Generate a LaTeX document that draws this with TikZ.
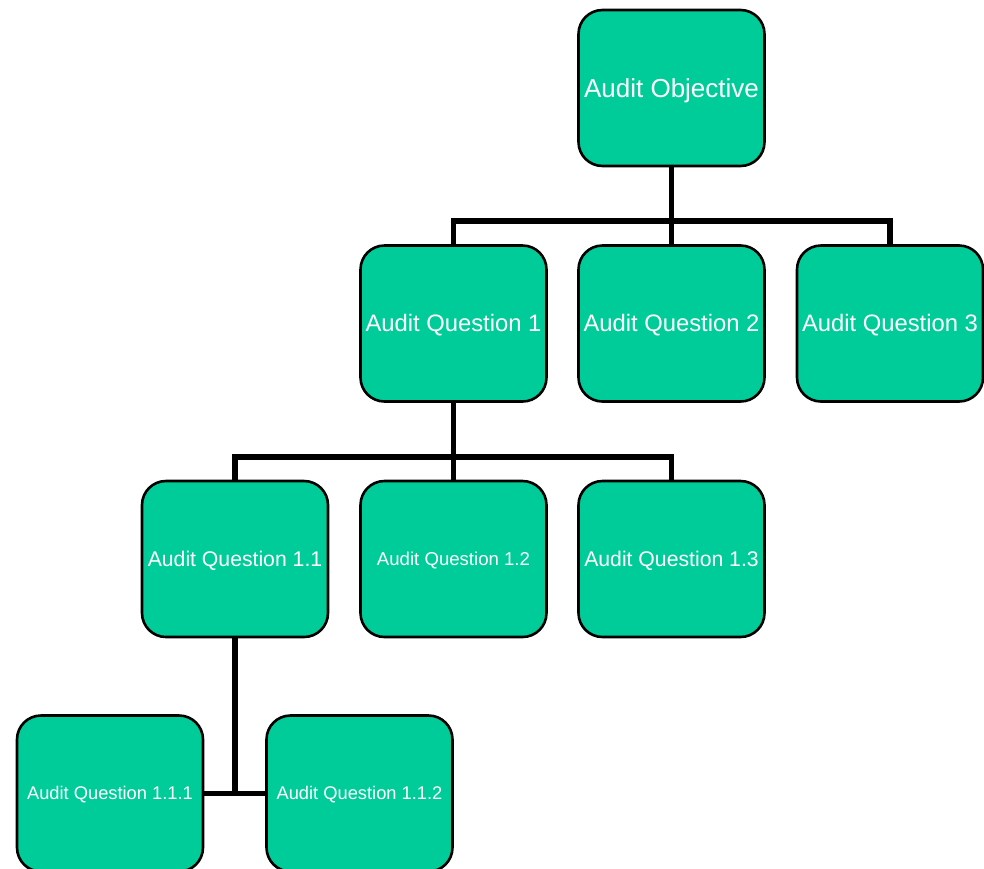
\documentclass[tikz,border=0pt]{standalone}
\usepackage{fontspec}
\setmainfont{Liberation Sans}
\usetikzlibrary{backgrounds}
\definecolor{boxgreen}{RGB}{0,204,153}
\begin{document}
\begin{tikzpicture}[x=1pt,y=-1pt,
  qbox/.style={draw=black, line width=2.6pt, fill=boxgreen, rounded corners=24pt,
    minimum width=186pt, minimum height=156pt, inner sep=0pt, text=white,
    font=\fontsize{#1}{#1}\selectfont,
    text height=\dimexpr #1pt*905/1000\relax, text depth=\dimexpr #1pt*212/1000\relax},
  link/.style={draw=black, line width=5.5pt}]
\useasboundingbox (0,0) rectangle (984,868);
% boxes
\node[qbox=26] (obj) at (671.5,88) {Audit Objective};
\node[qbox=23.8] (q1) at (453.5,323.5) {Audit Question 1};
\node[qbox=23.8] (q2) at (671.5,323.5) {Audit Question 2};
\node[qbox=23.8] (q3) at (890,323.5) {Audit Question 3};
\node[qbox=21.2] (q11) at (235,559) {Audit Question 1.1};
\node[qbox=18.6] (q12) at (453.5,559) {Audit Question 1.2};
\node[qbox=21.2] (q13) at (671.5,559) {Audit Question 1.3};
\node[qbox=18.3] (q111) at (110,793.5) {Audit Question 1.1.1};
\node[qbox=18.3] (q112) at (359.5,793.5) {Audit Question 1.1.2};
% junction points of the connector bars
\coordinate (bar1) at (671.5,221);
\coordinate (bar2) at (453.5,457);
\begin{scope}[on background layer]
  \draw[link] (obj.south) -- (bar1);
  \draw[link] (q1.north) |- (bar1) -| (q3.north);
  \draw[link] (bar1) -- (q2.north);
  \draw[link] (q1.south) -- (bar2);
  \draw[link] (q11.north) |- (bar2) -| (q13.north);
  \draw[link] (bar2) -- (q12.north);
  \draw[link] (q11.south) -- (q11.south |- q111.east);
  \draw[link] (q111.east) -- (q112.west);
\end{scope}
\end{tikzpicture}
\end{document}
